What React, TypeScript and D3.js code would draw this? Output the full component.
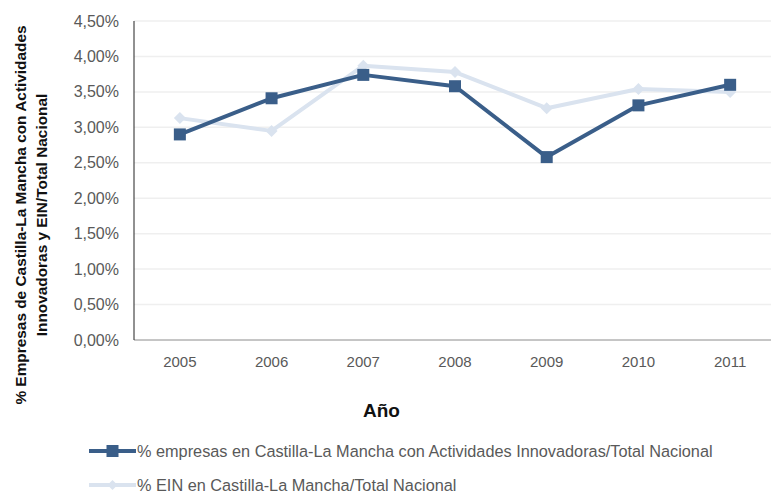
import React from "react";
import * as d3 from "d3";

const years = ["2005", "2006", "2007", "2008", "2009", "2010", "2011"];
const empresasInnov = [2.9, 3.41, 3.74, 3.58, 2.58, 3.31, 3.6];
const ein = [3.13, 2.95, 3.87, 3.78, 3.27, 3.54, 3.5];
const yTicks = [0, 0.5, 1, 1.5, 2, 2.5, 3, 3.5, 4, 4.5];
const seriesNames = [
  "% empresas en Castilla-La Mancha con Actividades Innovadoras/Total Nacional",
  "% EIN en Castilla-La Mancha/Total Nacional",
];
const yTitle = ["% Empresas de Castilla-La Mancha con  Actividades", "Innovadoras y EIN/Total Nacional"];
const xTitle = "Año";

const W = 771;
const H = 493;
const FONT = "'Liberation Sans', Arial, sans-serif";
const DARK = "#3a5e89";
const LIGHT = "#dae3ef";
const TXT = "#595959";

export default function App() {
  const x = d3.scaleBand<string>().domain(years).range([134, 776]);
  const y = d3.scaleLinear().domain([0, 4.5]).range([340, 21]);
  const cx = (d: string) => (x(d) as number) + x.bandwidth() / 2;
  const line = d3
    .line<number>()
    .x((_, i) => cx(years[i]))
    .y((v) => y(v));
  const fmt = (v: number) => v.toFixed(2).replace(".", ",") + "%";

  const diamond = (px: number, py: number, r: number) =>
    `M${px},${py - r}L${px + r},${py}L${px},${py + r}L${px - r},${py}Z`;

  return (
    <svg width={W} height={H} style={{ position: "absolute", left: 0, top: 0, background: "#fff" }}>
      <rect width={W} height={H} fill="#fff" />
      {yTicks.slice(1).map((t) => (
        <line key={t} x1={134} x2={771} y1={y(t)} y2={y(t)} stroke="#efefef" strokeWidth={1.5} />
      ))}
      <line x1={134} x2={771} y1={y(0)} y2={y(0)} stroke="#8c8c8c" strokeWidth={1} />
      <line x1={134} x2={134} y1={y(4.5)} y2={y(0)} stroke="#222" strokeWidth={1} />
      {yTicks.map((t) => (
        <text key={t} x={119} y={y(t)} dy="0.35em" textAnchor="end" fontFamily={FONT} fontSize={16} fill={TXT}>
          {fmt(t)}
        </text>
      ))}
      {years.map((yr) => (
        <text key={yr} x={cx(yr)} y={362} dy="0.35em" textAnchor="middle" fontFamily={FONT} fontSize={15} fill={TXT}>
          {yr}
        </text>
      ))}
      <text x={381.5} y={410} dy="0.35em" textAnchor="middle" fontFamily={FONT} fontSize={19} fontWeight="bold" fill="#111">
        {xTitle}
      </text>
      {yTitle.map((t, i) => (
        <text
          key={i}
          transform={`translate(${25.5 + i * 21},215) rotate(-90)`}
          textAnchor="middle"
          fontFamily={FONT}
          fontSize={15.4}
          fontWeight="bold"
          fill="#111"
        >
          {t}
        </text>
      ))}
      <path d={line(ein) || ""} fill="none" stroke={LIGHT} strokeWidth={4} strokeLinejoin="round" />
      {ein.map((v, i) => (
        <path key={i} d={diamond(cx(years[i]), y(v), 6)} fill={LIGHT} />
      ))}
      <path d={line(empresasInnov) || ""} fill="none" stroke={DARK} strokeWidth={4} strokeLinejoin="round" />
      {empresasInnov.map((v, i) => (
        <rect key={i} x={cx(years[i]) - 6} y={y(v) - 6} width={12} height={12} fill={DARK} />
      ))}
      {/* legend */}
      <line x1={89} x2={136} y1={451} y2={451} stroke={DARK} strokeWidth={4} />
      <rect x={106.5} y={445} width={12} height={12} fill={DARK} />
      <text x={137} y={451} dy="0.35em" fontFamily={FONT} fontSize={16.3} fill={TXT}>
        {seriesNames[0]}
      </text>
      <line x1={89} x2={136} y1={485} y2={485} stroke={LIGHT} strokeWidth={4} />
      <path d={diamond(112.5, 485, 5)} fill={LIGHT} />
      <text x={137} y={485} dy="0.35em" fontFamily={FONT} fontSize={16.3} fill={TXT}>
        {seriesNames[1]}
      </text>
    </svg>
  );
}
